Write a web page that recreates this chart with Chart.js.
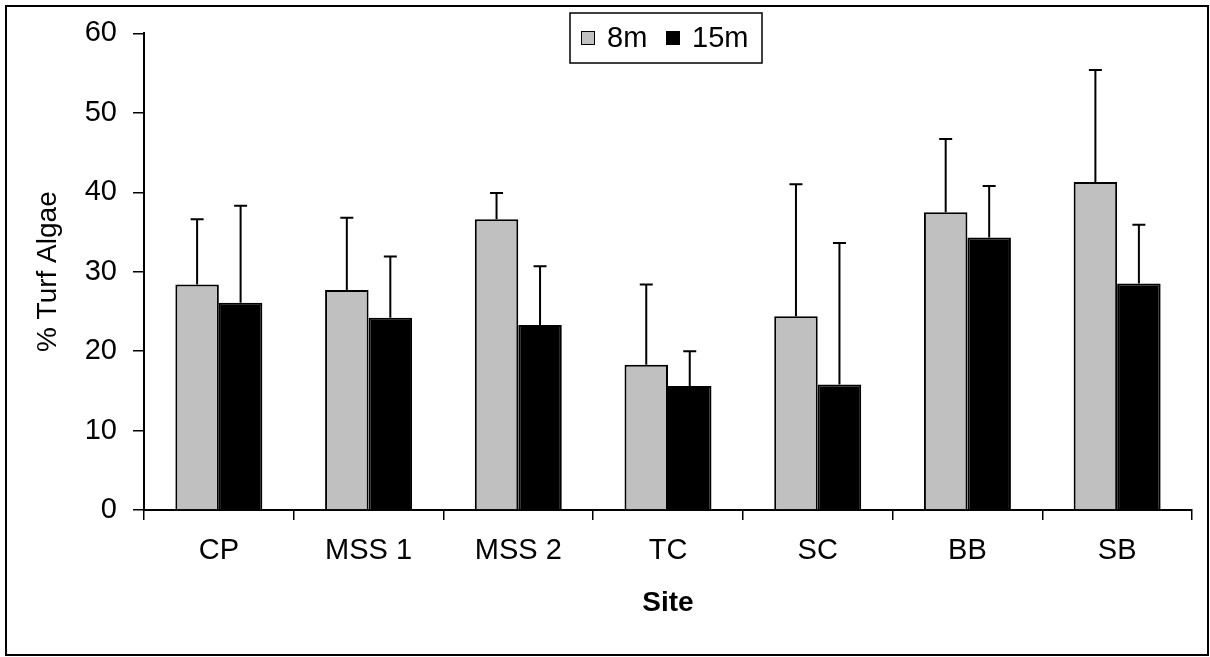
<!DOCTYPE html>
<html>
<head>
<meta charset="utf-8">
<script src="https://cdn.jsdelivr.net/npm/chart.js@4/dist/chart.umd.min.js"></script>
<style>
  html, body { margin: 0; padding: 0; background: #ffffff; }
  canvas { display: block; }
</style>
</head>
<body>
<canvas id="c" width="1210" height="657"></canvas>
<script>
const categories = ['CP', 'MSS 1', 'MSS 2', 'TC', 'SC', 'BB', 'SB'];
const turf8m  = [28.4, 27.7, 36.6, 18.3, 24.4, 37.5, 41.3];
const turf15m = [26.1, 24.2, 23.3, 15.6, 15.8, 34.3, 28.5];
const err8m   = [8.2, 9.1, 3.3, 10.1, 16.6, 9.2, 14.1];
const err15m  = [12.2, 7.7, 7.4, 4.4, 17.8, 6.5, 7.4];
const yTicks  = [0, 10, 20, 30, 40, 50, 60];

const FONT = '"Liberation Sans", Arial, sans-serif';

const errorBars = {
  id: 'errorBars',
  afterDatasetsDraw(chart) {
    const ctx = chart.ctx;
    const y = chart.scales.y;
    ctx.save();
    ctx.strokeStyle = '#000';
    ctx.lineWidth = 2;
    chart.data.datasets.forEach((ds, i) => {
      const meta = chart.getDatasetMeta(i);
      meta.data.forEach((bar, j) => {
        const v = ds.data[j];
        const e = ds.errors[j];
        const yTop = y.getPixelForValue(v + e);
        const yBar = y.getPixelForValue(v);
        ctx.beginPath();
        ctx.moveTo(bar.x, yBar);
        ctx.lineTo(bar.x, yTop);
        ctx.moveTo(bar.x - 6.5, yTop);
        ctx.lineTo(bar.x + 6.5, yTop);
        ctx.stroke();
      });
    });
    ctx.restore();
  }
};

const frameAndLegend = {
  id: 'frameAndLegend',
  afterDraw(chart) {
    const ctx = chart.ctx;
    ctx.save();
    ctx.strokeStyle = '#000';
    ctx.lineWidth = 2;
    ctx.strokeRect(6, 6, 1202, 649);
    ctx.fillStyle = '#fff';
    ctx.fillRect(570, 13, 192, 50);
    ctx.lineWidth = 1.5;
    ctx.strokeRect(570, 13, 192, 50);
    const items = [
      { x: 581, tx: 607 },
      { x: 666, tx: 692 }
    ];
    ctx.font = '29px ' + FONT;
    ctx.textBaseline = 'alphabetic';
    ctx.textAlign = 'left';
    chart.data.datasets.forEach((ds, i) => {
      const it = items[i];
      ctx.fillStyle = ds.backgroundColor;
      ctx.fillRect(it.x, 31, 14, 14);
      ctx.strokeStyle = '#000';
      ctx.lineWidth = 1;
      ctx.strokeRect(it.x + 0.5, 31.5, 13, 13);
      ctx.fillStyle = '#000';
      ctx.fillText(ds.label, it.tx, 47);
    });
    ctx.restore();
  }
};

new Chart(document.getElementById('c'), {
  type: 'bar',
  data: {
    labels: categories,
    datasets: [
      { label: '8m', data: turf8m, errors: err8m, backgroundColor: '#C0C0C0', borderColor: '#000', borderWidth: 2, borderSkipped: 'start' },
      { label: '15m', data: turf15m, errors: err15m, backgroundColor: '#000000', borderColor: '#000', borderWidth: 2, borderSkipped: 'start' }
    ]
  },
  options: {
    responsive: false,
    animation: false,
    devicePixelRatio: 1,
    layout: { padding: { top: 32, right: 18, left: 0, bottom: 0 } },
    datasets: { bar: { categoryPercentage: 0.581, barPercentage: 1.0 } },
    plugins: { legend: { display: false }, tooltip: { enabled: false }, title: { display: false } },
    scales: {
      x: {
        afterFit(s) { s.height = 147; },
        grid: { display: true, drawOnChartArea: false, drawTicks: true, tickLength: 10, color: '#000', lineWidth: 1.5, offset: true },
        border: { display: true, color: '#000', width: 2 },
        ticks: { color: '#000', font: { family: FONT, size: 29 }, padding: 14, maxRotation: 0, autoSkip: false },
        title: { display: true, text: 'Site', color: '#000', font: { family: FONT, size: 28, weight: 'bold' }, padding: { top: 0, bottom: 37 } }
      },
      y: {
        min: 0, max: 60,
        afterFit(s) { s.width = 144; },
        afterBuildTicks(s) { s.ticks = yTicks.map(v => ({ value: v })); },
        grid: { display: true, drawOnChartArea: false, drawTicks: true, tickLength: 11, color: '#000', lineWidth: 1.5 },
        border: { display: true, color: '#000', width: 2 },
        ticks: { color: '#000', font: { family: FONT, size: 29 }, padding: 16 },
        title: { display: true, text: '% Turf Algae', color: '#000', font: { family: FONT, size: 28 }, padding: { top: 31, bottom: 0 } }
      }
    }
  },
  plugins: [errorBars, frameAndLegend]
});
</script>
</body>
</html>
